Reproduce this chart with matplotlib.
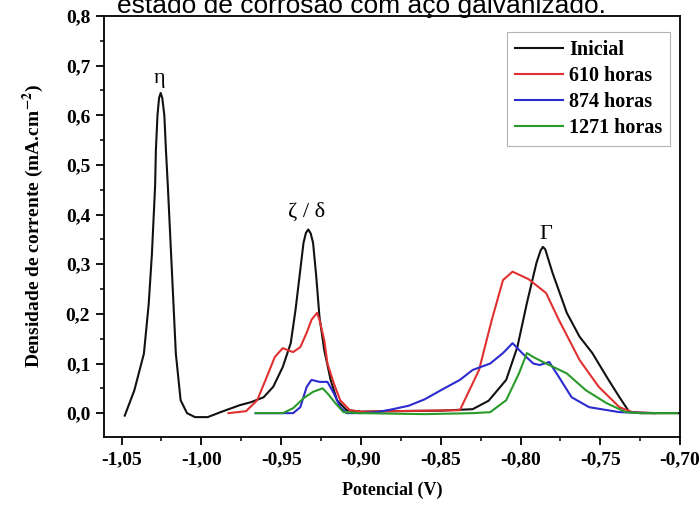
import numpy as np
import matplotlib.pyplot as plt
from matplotlib.ticker import MultipleLocator, FuncFormatter

plt.rcParams["font.family"] = ["Liberation Serif", "DejaVu Serif"]
plt.rcParams["mathtext.fontset"] = "stix"

# Inicial
x_ini = [-1.048, -1.042, -1.036, -1.033, -1.031, -1.029, -1.0285, -1.0275, -1.0265, -1.0255,
         -1.0245, -1.0232, -1.0222, -1.021, -1.018, -1.016, -1.013, -1.009, -1.004, -0.996,
         -0.988, -0.976, -0.969, -0.961, -0.955, -0.949, -0.944, -0.941, -0.938, -0.936,
         -0.9345, -0.933, -0.9315, -0.930, -0.928, -0.926, -0.923, -0.919, -0.915, -0.909,
         -0.900, -0.880, -0.850, -0.830, -0.820, -0.809, -0.802, -0.796, -0.790, -0.7875,
         -0.786, -0.7845, -0.780, -0.771, -0.763, -0.755, -0.746, -0.738, -0.732, -0.725,
         -0.700]
y_ini = [-0.005, 0.046, 0.12, 0.22, 0.32, 0.457, 0.53, 0.60, 0.635, 0.645,
         0.635, 0.60, 0.53, 0.457, 0.255, 0.12, 0.026, 0.0, -0.008, -0.008,
         0.002, 0.016, 0.022, 0.032, 0.053, 0.093, 0.141, 0.208, 0.289, 0.343,
         0.363, 0.37, 0.362, 0.343, 0.275, 0.194, 0.127, 0.067, 0.026, 0.006,
         0.003, 0.004, 0.005, 0.008, 0.025, 0.067, 0.133, 0.222, 0.303, 0.327,
         0.335, 0.33, 0.283, 0.202, 0.154, 0.121, 0.073, 0.032, 0.003, 0.0,
         0.0]

# 610 horas
x_610 = [-0.983, -0.972, -0.965, -0.959, -0.954, -0.949, -0.946, -0.9425, -0.938, -0.934,
         -0.931, -0.9275, -0.926, -0.923, -0.921, -0.917, -0.913, -0.907, -0.900, -0.860,
         -0.838, -0.826, -0.818, -0.811, -0.805, -0.795, -0.784, -0.776, -0.763, -0.751,
         -0.738, -0.730, -0.715]
y_610 = [0.0, 0.004, 0.026, 0.073, 0.113, 0.131, 0.127, 0.123, 0.133, 0.162,
         0.188, 0.202, 0.188, 0.147, 0.10, 0.06, 0.026, 0.006, 0.003, 0.005,
         0.006, 0.087, 0.188, 0.268, 0.285, 0.27, 0.242, 0.188, 0.107, 0.053,
         0.012, 0.002, 0.0]

# 874 horas
x_874 = [-0.966, -0.953, -0.9425, -0.938, -0.934, -0.931, -0.926, -0.921, -0.917, -0.913,
         -0.909, -0.900, -0.890, -0.880, -0.870, -0.860, -0.850, -0.838, -0.830, -0.819,
         -0.811, -0.805, -0.799, -0.792, -0.788, -0.782, -0.776, -0.768, -0.757, -0.738,
         -0.716]
y_874 = [0.0, 0.0, 0.0, 0.012, 0.053, 0.067, 0.063, 0.063, 0.04, 0.012,
         0.0, 0.0, 0.002, 0.008, 0.015, 0.028, 0.046, 0.067, 0.087, 0.1,
         0.121, 0.141, 0.121, 0.1, 0.097, 0.103, 0.073, 0.032, 0.012, 0.002,
         0.0]

# 1271 horas
x_1271 = [-0.966, -0.949, -0.9425, -0.936, -0.930, -0.924, -0.921, -0.916, -0.911, -0.900,
          -0.860, -0.830, -0.819, -0.809, -0.801, -0.796, -0.792, -0.784, -0.771, -0.759,
          -0.746, -0.734, -0.725, -0.702]
y_1271 = [0.0, 0.0, 0.01, 0.03, 0.043, 0.05, 0.04, 0.02, 0.002, 0.0,
          -0.002, 0.0, 0.002, 0.026, 0.08, 0.121, 0.113, 0.1, 0.08, 0.046,
          0.02, 0.002, 0.0, 0.0]

fig = plt.figure(figsize=(7, 5.09), dpi=100)
ax = fig.add_axes([0.1486, 0.1415, 0.823, 0.827])

ax.plot(x_ini, y_ini, color="#111111", lw=1.5, label="Inicial")
ax.plot(x_610, y_610, color="#e03030", lw=1.5, label="610 horas")
ax.plot(x_874, y_874, color="#2b2bd0", lw=1.5, label="874 horas")
ax.plot(x_1271, y_1271, color="#2a9a2a", lw=1.5, label="1271 horas")

ax.text(-1.026, 0.675, "η", fontsize=16, ha="center", va="center")
ax.text(-0.934, 0.404, "ζ / δ", fontsize=16, ha="center", va="center")
ax.text(-0.784, 0.36, "Γ", fontsize=16, ha="center", va="center")

ax.set_xlim(-1.061, -0.70)
ax.set_ylim(-0.048, 0.8)
ax.xaxis.set_major_locator(MultipleLocator(0.05))
ax.xaxis.set_minor_locator(MultipleLocator(0.025))
ax.yaxis.set_major_locator(MultipleLocator(0.1))
ax.yaxis.set_minor_locator(MultipleLocator(0.05))
ax.xaxis.set_major_formatter(FuncFormatter(lambda v, p: f"{v:.2f}".replace(".", ",")))
ax.yaxis.set_major_formatter(FuncFormatter(lambda v, p: f"{v:.1f}".replace(".", ",")))
ax.tick_params(which="major", direction="out", length=6, width=1.3, labelsize=14, pad=4)
ax.tick_params(which="minor", direction="out", length=3, width=1.1)
for lab in ax.get_xticklabels() + ax.get_yticklabels():
    lab.set_fontweight("bold")
for s in ax.spines.values():
    s.set_linewidth(1.3)

ax.set_xlabel("Potencial (V)", fontsize=13, fontweight="bold", labelpad=10)
ax.set_ylabel(r"Densidade de corrente (mA.cm$^{\mathbf{-2}}$)", fontsize=14,
              fontweight="bold", labelpad=14)

leg = ax.legend(loc="upper right", bbox_to_anchor=(0.983, 0.962), borderaxespad=0,
                prop={"weight": "bold", "size": 14.5}, fancybox=False,
                edgecolor="#a0a0a0", handlelength=2.4, labelspacing=0.3,
                handletextpad=0.3, borderpad=0.4)
leg.get_frame().set_linewidth(0.8)

fig.text(0.517, 1 - 13 / 509, "estado de corrosão com aço galvanizado.",
         family="Liberation Sans", fontsize=19, ha="center", va="baseline")

fig.savefig("out.png", dpi=100, facecolor="white")
